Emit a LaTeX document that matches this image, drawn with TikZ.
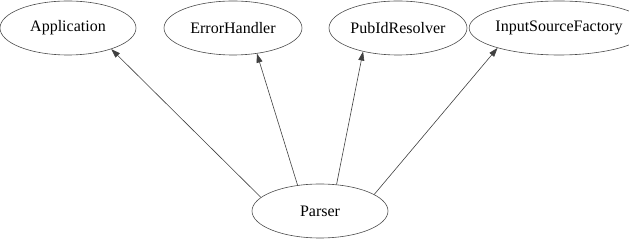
\documentclass[tikz,border=0pt]{standalone}
\usepackage{fontspec}
\setmainfont{Liberation Serif}
\usetikzlibrary{shapes.geometric,arrows.meta}
\begin{document}
\begin{tikzpicture}[x=1pt,y=1pt,
  cls/.style={draw=black!70, line width=0.6pt, ellipse, inner sep=0pt,
    minimum height=54pt, font=\fontsize{16}{18}\selectfont},
  dep/.style={draw=black!75, line width=0.6pt, -{Triangle[length=9pt,width=6pt]}}]
\useasboundingbox (0,0) rectangle (629,240);
\node[cls, minimum width=136pt] (app) at (68,212) {Application};
\node[cls, minimum width=138pt] (err) at (233,212) {ErrorHandler};
\node[cls, minimum width=138pt] (pub) at (398,212) {PubIdResolver};
\node[cls, minimum width=133pt] (isf) at (559,212) {InputSourceFactory};
\node[cls, minimum width=136pt] (par) at (320,29) {Parser};
\draw[dep] (par.167.5) -- (app.-26);
\draw[dep] (par.131.8) -- (err.-47);
\draw[dep] (par.58.7) -- (pub.214.4);
\draw[dep] (par.17.2) -- (isf.198.7);
\end{tikzpicture}
\end{document}
